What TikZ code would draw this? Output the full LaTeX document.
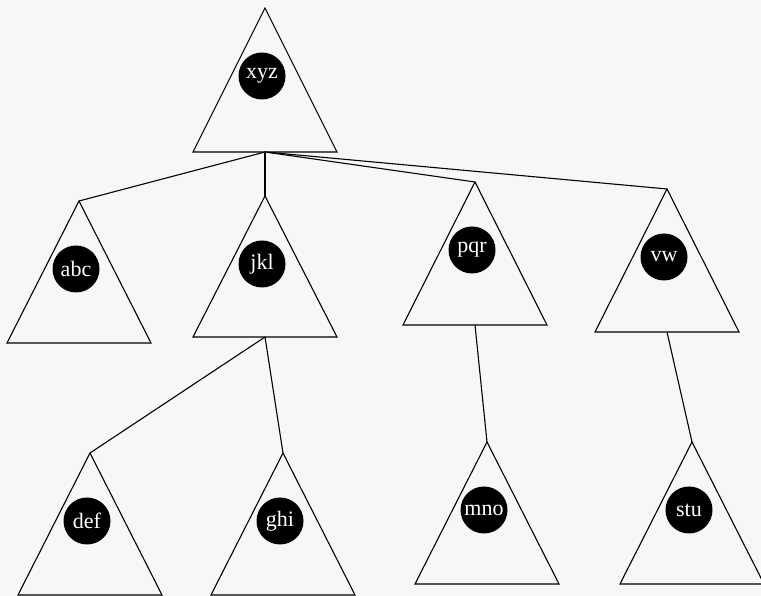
\documentclass[tikz,border=0pt]{standalone}
\usepackage{fontspec}
\setmainfont{Liberation Serif}
\definecolor{bg}{RGB}{247,247,247}
\tikzset{
  tri/.style={draw=black, line width=1.1pt, line join=miter},
  keynode/.style={circle, fill=black, text=white, minimum size=47pt, inner sep=0pt,
                  font=\fontsize{22}{22}\selectfont},
  link/.style={draw=black, line width=1.1pt}
}
% name, label, x, top y, base y
\newcommand\subtree[5]{%
  \coordinate (#1-top) at (#3,#4);
  \coordinate (#1-bot) at (#3,#5);
  \draw[tri] (#1-top) -- ([xshift=-72pt]#1-bot) -- ([xshift=72pt]#1-bot) -- cycle;
  \node[keynode] (#1) at ([xshift=-3pt, yshift=-68pt]#1-top) {#2};
}
\begin{document}
\begin{tikzpicture}[x=1pt, y=1pt]
  \fill[bg] (0,0) rectangle (761,596);
  \useasboundingbox (0,0) rectangle (761,596);
  \subtree{xyz}{xyz}{265}{588}{444}
  \subtree{abc}{abc}{79}{395}{253}
  \subtree{jkl}{jkl}{265}{400}{259}
  \subtree{pqr}{pqr}{475}{414}{271}
  \subtree{vw}{vw}{667}{407}{264}
  \subtree{def}{def}{90}{143}{1}
  \subtree{ghi}{ghi}{283}{143}{1}
  \subtree{mno}{mno}{487}{154}{12}
  \subtree{stu}{stu}{692}{154}{12}
  \draw[link] (xyz-bot) -- (abc-top);
  \draw[link] (xyz-bot) -- (jkl-top);
  \draw[link] (xyz-bot) -- (pqr-top);
  \draw[link] (xyz-bot) -- (vw-top);
  \draw[link] (jkl-bot) -- (def-top);
  \draw[link] (jkl-bot) -- (ghi-top);
  \draw[link] (pqr-bot) -- (mno-top);
  \draw[link] (vw-bot) -- (stu-top);
\end{tikzpicture}
\end{document}
